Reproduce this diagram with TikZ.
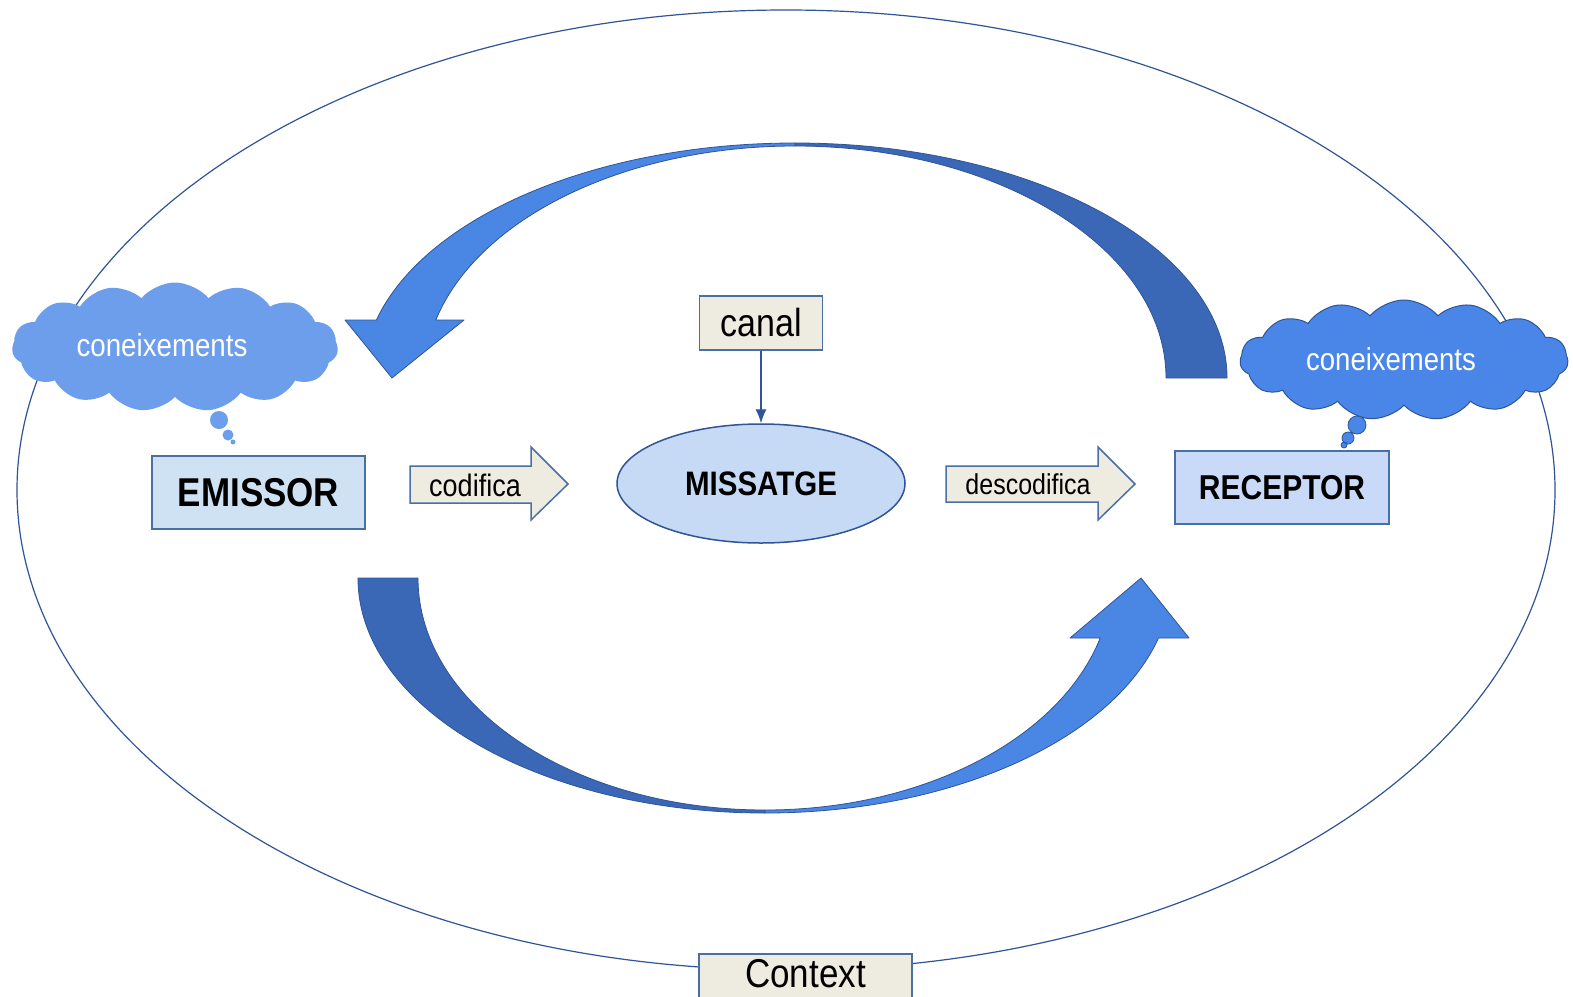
\documentclass[tikz,border=0pt]{standalone}
\usepackage{fontspec}
\usepackage{graphicx}
\setmainfont{Liberation Sans}
\usetikzlibrary{shapes.geometric,shapes.symbols,arrows.meta}
\definecolor{edgeblue}{HTML}{2F5597}
\definecolor{boxedge}{HTML}{4A6FA5}
\definecolor{beige}{HTML}{EEECE1}
\definecolor{darkarrow}{HTML}{3A68B7}
\definecolor{lightarrow}{HTML}{4A86E3}
\definecolor{cloudA}{HTML}{6D9EEB}
\definecolor{cloudB}{HTML}{4A86E8}
\definecolor{emfill}{HTML}{CFE2F3}
\definecolor{recfill}{HTML}{C9DAF8}
\definecolor{msgfill}{HTML}{C6D9F5}
\newcommand{\vs}[1]{\scalebox{1}[1.15]{#1}}
\newcommand{\fs}[1]{\fontsize{#1}{#1}\selectfont}
\begin{document}
\begin{tikzpicture}[x=1pt,y=1pt,
  beigebox/.style={draw=boxedge, line width=1.5pt, fill=beige, inner sep=0pt},
  mainbox/.style={draw=boxedge, line width=1.5pt, inner sep=0pt},
  curvedark/.style={fill=darkarrow, draw=edgeblue, line width=0.8pt, line join=round},
  curvelight/.style={fill=lightarrow, draw=edgeblue, line width=0.8pt, line join=round},
  blockarrow/.style={fill=beige, draw=boxedge, line width=1.5pt},
  lbl/.style={inner sep=0pt, text=black},
  cloudtext/.style={inner sep=0pt, text=white},
  puff/.style={cloud, cloud puffs=15, cloud puff arc=100, inner sep=0pt},
]
\useasboundingbox (0,0) rectangle (1573,-996);
\fill[white] (0,0) rectangle (1573,-996);
% context ellipse
\draw[edgeblue, line width=1.2pt] (786,-490) ellipse [x radius=769, y radius=480];
% top curved arrow
\draw[curvedark] (1227,-378) arc[start angle=0,end angle=90,x radius=432,y radius=235]
  -- (795,-146) arc[start angle=90,end angle=0,x radius=371,y radius=232] -- cycle;
\draw[curvelight] (795,-143) arc[start angle=90,end angle=165.71,x radius=432,y radius=235]
  -- (345,-320) -- (392,-378) -- (464,-320) -- (435.8,-320)
  arc[start angle=165.52,end angle=90,x radius=371,y radius=232] -- cycle;
% bottom curved arrow
\draw[curvedark] (358,-578) arc[start angle=180,end angle=270,x radius=407,y radius=235]
  -- (765,-810) arc[start angle=270,end angle=180,x radius=347,y radius=232] -- cycle;
\draw[curvelight] (765,-813) arc[start angle=270,end angle=345.2,x radius=407,y radius=235]
  -- (1189,-638) -- (1141,-578) -- (1070,-638) -- (1100.2,-638)
  arc[start angle=345.01,end angle=270,x radius=347,y radius=232] -- cycle;
% clouds
\node[puff, fill=cloudA, aspect=2.6, minimum width=326pt, minimum height=129pt] (cloudL) at (175,-347) {};
\node[cloudtext] (tL) at (162,-345) {\fs{27.7}\vs{coneixements}};
\fill[cloudA] (219,-420) circle (9) (228,-435) circle (5.5) (233,-442) circle (2.5);
\node[puff, fill=cloudB, draw=edgeblue, line width=1pt, aspect=2.7, minimum width=328pt, minimum height=120pt] (cloudR) at (1404,-360) {};
\node[cloudtext] (tR) at (1391,-359) {\fs{27.5}\vs{coneixements}};
\filldraw[fill=cloudB, draw=edgeblue, line width=0.8pt] (1357,-425) circle (9) (1348,-438) circle (6) (1344,-445) circle (3);
% boxes
\node[mainbox, fill=emfill, minimum width=213pt, minimum height=73pt] (em) at (258.5,-492.5) {\fs{35}\vs{\bfseries EMISSOR}};
\node[mainbox, fill=recfill, minimum width=214pt, minimum height=73pt] (rec) at (1282,-487.5) {\fs{30}\vs{\bfseries RECEPTOR}};
\node[ellipse, draw=edgeblue, line width=1.5pt, fill=msgfill, inner sep=0pt, minimum width=288pt, minimum height=119pt] (msg) at (761,-483.5) {\fs{29.5}\vs{\bfseries MISSATGE}};
\node[beigebox, minimum width=123pt, minimum height=54pt] (canal) at (761,-323) {\fs{34}\vs{canal}};
\filldraw[fill=beige, draw=boxedge, line width=1.5pt] (699,-1000) -- (699,-954) -- (912,-954) -- (912,-1000);
\node[lbl] (ctx) at (805.5,-974) {\fs{35}\vs{Context}};
\draw[edgeblue, line width=1.2pt, -{Latex[length=14pt,width=11pt]}] (canal.south) -- (msg.north);
% block arrows
\draw[blockarrow] (410,-466) -- (531,-466) -- (531,-447) -- (568,-484) -- (531,-520) -- (531,-503) -- (410,-503) -- cycle;
\node[lbl] (cod) at (475,-485) {\fs{27}\vs{codifica}};
\draw[blockarrow] (946,-466) -- (1098,-466) -- (1098,-447) -- (1135,-484) -- (1098,-520) -- (1098,-502) -- (946,-502) -- cycle;
\node[lbl] (dec) at (1028,-484) {\fs{25}\vs{descodifica}};
\end{tikzpicture}
\end{document}
